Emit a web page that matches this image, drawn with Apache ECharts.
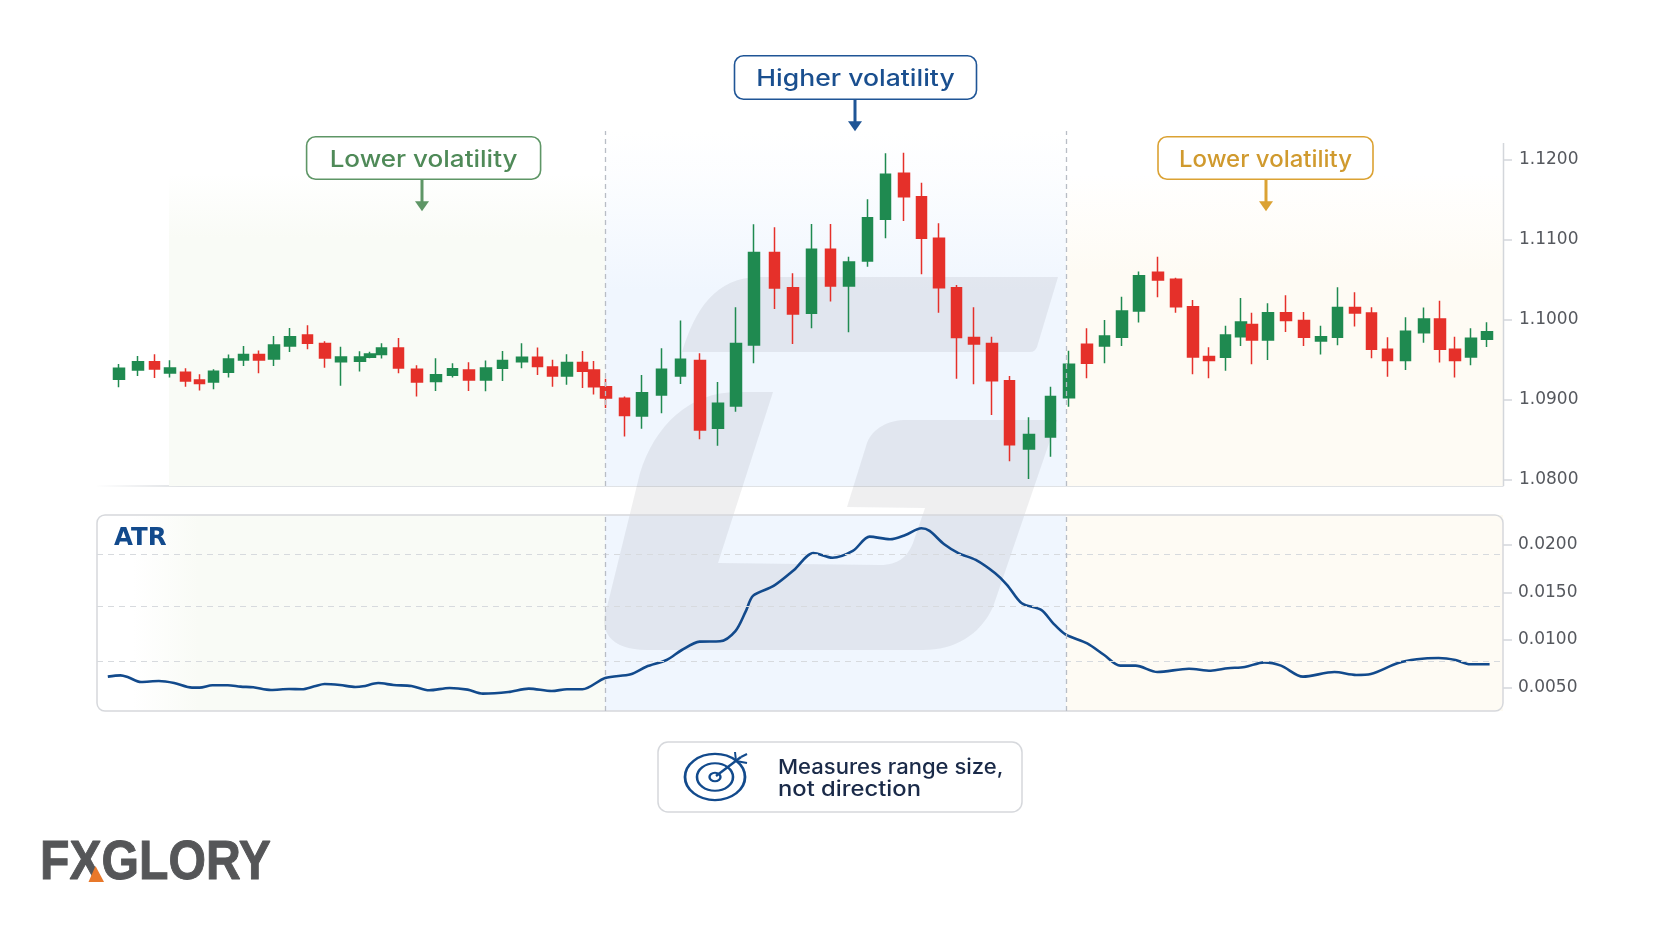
<!DOCTYPE html>
<html lang="en">
<head>
    <meta charset="UTF-8">
    <title>ATR volatility</title>
    <script src="https://cdn.jsdelivr.net/npm/echarts@6/dist/echarts.min.js"></script>
    <style>
        html, body { margin: 0; padding: 0; background: #fff; }
        #chart { width: 1664px; height: 928px; }
    </style>
</head>
<body>
<div id="chart"></div>
<script type="text/javascript">
    // minutes since session start, the bars are not evenly spaced in the picture
    var barMinutes = [10.9, 20.6, 28.7, 36.6, 44.2, 51.3, 58.2, 65.7, 73.3, 80.9, 88.5, 96.4, 105.2, 114.1, 121.9, 131.5, 136.5, 142.2, 150.8, 160, 169.4, 177.7, 186, 194.5, 202.8, 212.4, 220.2, 227.8, 235, 242.7, 248.6, 254.6, 263.7,
        272.5, 282.2, 291.7, 301.4, 310.4, 319.5, 328.5, 338.7, 347.9, 357.2, 366.7, 375.9, 385.2, 394.2, 403.4, 412.2, 421, 429.7, 438.5, 447.4, 456.2, 466, 476.7, 486,
        494.9, 503.7, 512.4, 521, 530.5, 539.5, 548, 556, 564.2, 572, 577.4, 585.5, 594.5, 603.5, 611.9, 620.3, 629, 637.2, 645.3, 654.2, 663.5, 671.5, 679, 687, 695];
    var openPrices = [1.09256, 1.09372, 1.09476, 1.09335, 1.09343, 1.09248, 1.09223, 1.09343, 1.09497, 1.09564, 1.0951, 1.09672, 1.09809, 1.09701, 1.09476, 1.0948, 1.0953, 1.09564, 1.09647, 1.09381, 1.09227, 1.09306, 1.09372, 1.09248, 1.09393, 1.09476, 1.0953, 1.0941, 1.09297, 1.09464, 1.09372, 1.09164, 1.09019,
        1.08798, 1.0906, 1.09297, 1.09489, 1.08645, 1.08923, 1.09684, 1.10836, 1.10399, 1.10079, 1.10877, 1.1042, 1.10732, 1.11252, 1.11825, 1.11534, 1.11015, 1.10399, 1.09776, 1.09701, 1.09239, 1.08387, 1.08536, 1.09027,
        1.09692, 1.09672, 1.0978, 1.10108, 1.10591, 1.10503, 1.10162, 1.09539, 1.0953, 1.09788, 1.09938, 1.09746, 1.10087, 1.09988, 1.09734, 1.0978, 1.1015, 1.10083, 1.0963, 1.09489, 1.09838, 1.10008, 1.0963, 1.09534, 1.09755];
    var closePrices = [1.09393, 1.09476, 1.09385, 1.09397, 1.09235, 1.09202, 1.09356, 1.0951, 1.09564, 1.09497, 1.09684, 1.09788, 1.09705, 1.09522, 1.09534, 1.09534, 1.09572, 1.09647, 1.09397, 1.09223, 1.09314, 1.09389, 1.09248, 1.09397, 1.09489, 1.0953, 1.09414, 1.09297, 1.09464, 1.09356, 1.09164, 1.09023, 1.08803,
        1.09089, 1.09381, 1.09505, 1.08624, 1.08956, 1.09701, 1.10836, 1.10395, 1.10071, 1.10877, 1.1042, 1.10719, 1.11272, 1.11813, 1.11534, 1.11015, 1.10399, 1.09776, 1.09697, 1.09239, 1.08441, 1.08566, 1.0904, 1.09443,
        1.09455, 1.09796, 1.10108, 1.10549, 1.10495, 1.10162, 1.09534, 1.09489, 1.09809, 1.09971, 1.09746, 1.10087, 1.09988, 1.0978, 1.09788, 1.1015, 1.10083, 1.0963, 1.09489, 1.09855, 1.10008, 1.0963, 1.09489, 1.09767, 1.0985];
    var lowPrices = [1.09156, 1.09297, 1.09273, 1.09277, 1.09164, 1.09115, 1.09131, 1.09277, 1.09422, 1.09331, 1.09422, 1.09597, 1.0963, 1.09401, 1.09177, 1.09352, 1.09518, 1.09514, 1.09331, 1.0904, 1.0911, 1.09277, 1.0911, 1.09106, 1.09235, 1.09393, 1.0931, 1.09164, 1.09189, 1.09148, 1.09065, 1.08898, 1.08541,
        1.0864, 1.08832, 1.09198, 1.08507, 1.08428, 1.08852, 1.09455, 1.10133, 1.09697, 1.09892, 1.10225, 1.09842, 1.10661, 1.11015, 1.11231, 1.10566, 1.10087, 1.09264, 1.09193, 1.08811, 1.08233, 1.08013, 1.08291, 1.08915,
        1.09268, 1.09455, 1.09672, 1.09963, 1.10279, 1.10087, 1.09318, 1.09268, 1.09364, 1.09672, 1.09443, 1.09497, 1.09846, 1.09672, 1.09564, 1.0968, 1.09913, 1.09518, 1.09289, 1.09372, 1.09713, 1.09464, 1.09277, 1.0943, 1.09659];
    var highPrices = [1.09447, 1.09547, 1.09568, 1.09493, 1.09393, 1.09318, 1.09381, 1.09564, 1.09672, 1.09614, 1.09796, 1.09896, 1.0993, 1.0973, 1.09663, 1.09605, 1.09601, 1.09705, 1.09772, 1.09431, 1.09518, 1.09455, 1.09468, 1.09489, 1.09609, 1.09705, 1.09651, 1.09501, 1.09568, 1.09609, 1.09485, 1.09264, 1.0904,
        1.0931, 1.09643, 1.09988, 1.0958, 1.09223, 1.10154, 1.11189, 1.11152, 1.10578, 1.11193, 1.11193, 1.10786, 1.11501, 1.12075, 1.12083, 1.11709, 1.11202, 1.10433, 1.10154, 1.09788, 1.09297, 1.08782, 1.09164, 1.09613,
        1.09892, 1.09996, 1.10287, 1.10599, 1.10786, 1.10524, 1.10245, 1.09655, 1.09925, 1.1027, 1.10087, 1.10204, 1.10304, 1.10096, 1.09925, 1.10403, 1.10341, 1.10154, 1.0978, 1.10029, 1.1015, 1.10237, 1.09788, 1.09892, 1.09967];

    var atrMinutes = [5.4, 11.8, 15.6, 22, 30.9, 38.6, 47.5, 51.3, 57.7, 65.4, 71.8, 78.1, 87, 96, 102.4, 108.7, 113.8, 121.5, 129.2, 133, 140.6, 148.3, 157.2, 166.1, 176.3, 185.3, 192.9, 205.7, 215.9, 227.4, 235, 242.7, 254.1, 266.9, 274.6, 284.8, 292.4, 301.3, 311.5, 319.2, 324.3, 328.1, 338.3, 348.5, 358.2, 367.7, 377.9, 386.3, 396.5,
        404.2, 412.2, 416.3, 423.6, 430.9, 439.4, 449.1, 455.1, 462.4, 472.1, 478.1, 484.2, 495.1, 503.6, 511.6, 519.3, 530.2, 546, 556.9, 565.4, 573.9, 583.6, 592, 603, 618.7, 629.6, 636.9, 650.2, 659.9, 670.8, 679.3, 686.6, 696.3];
    var atrValues = [0.00612, 0.00626, 0.00605, 0.00556, 0.00566, 0.00545, 0.00496, 0.00496, 0.00521, 0.00521, 0.00507, 0.005, 0.00472, 0.00482, 0.00479, 0.0051, 0.00535, 0.00524, 0.00503, 0.0051, 0.00545, 0.00524, 0.00514, 0.00468, 0.00493, 0.00475, 0.00433, 0.0045, 0.00486, 0.00461, 0.00479, 0.00479, 0.00598, 0.00637, 0.00717, 0.00788, 0.00893, 0.00981, 0.00985, 0.01093, 0.01297, 0.01466, 0.01568, 0.01736, 0.01916, 0.01866, 0.01937, 0.02088, 0.0206,
        0.02105, 0.02176, 0.02148, 0.02007, 0.01912, 0.01842, 0.01701, 0.01578, 0.01385, 0.01315, 0.01174, 0.01058, 0.00963, 0.0084, 0.00728, 0.00728, 0.00661, 0.00696, 0.00675, 0.007, 0.00714, 0.00763, 0.00728, 0.00612, 0.00661, 0.0063, 0.0064, 0.00753, 0.00795, 0.00809, 0.00788, 0.00742, 0.00742];

    var priceTicks = [1.08, 1.09, 1.10, 1.11, 1.12];
    var atrTicks = [0.005, 0.01, 0.015, 0.02];
    var atrGuides = [0.01905, 0.01357, 0.00777];
    var zoneEdges = [36, 254, 484.5, 703];

    var GREEN = '#1f8a50', RED = '#e5302a', NAVY = '#124a8c';
    var FONT = 'Inter, "Noto Sans", sans-serif';
    var TICK_FONT = '"DejaVu Sans", sans-serif';

    var chartDom = document.getElementById('chart');
    var myChart = echarts.init(chartDom);

    function fade(r, g, b, x2, y2, stops) {
        return new echarts.graphic.LinearGradient(0, 0, x2, y2, stops.map(function (s) {
            return { offset: s[0], color: 'rgba(' + r + ',' + g + ',' + b + ',' + s[1] + ')' };
        }));
    }

    // rounded label with an arrow under it, the lettering in the picture is wider than Inter
    function callout(x, y, w, h, text, stroke, textColor, arrowX, stretch) {
        return [
            { type: 'rect', z: 20, shape: { x: x, y: y, width: w, height: h, r: 9 }, style: { fill: '#fff', stroke: stroke, lineWidth: 1.6 } },
            { type: 'text', z: 21, x: x + w / 2, y: y + h / 2 + 2, scaleX: stretch, style: { text: text, x: 0, y: 0, fill: textColor, font: '500 22.5px ' + FONT, textAlign: 'center', textVerticalAlign: 'middle' } },
            { type: 'line', z: 20, shape: { x1: arrowX, y1: y + h, x2: arrowX, y2: y + h + 24 }, style: { stroke: stroke, lineWidth: 3 } },
            { type: 'polygon', z: 20, shape: { points: [[arrowX - 7, y + h + 22], [arrowX + 7, y + h + 22], [arrowX, y + h + 32]] }, style: { fill: stroke } }
        ];
    }

    // flattened rings of the target icon
    function ring(r, w) {
        return { type: 'circle', z: 21, x: 715, y: 777, scaleY: 0.77, shape: { cx: 0, cy: 0, r: r }, style: { fill: 'transparent', stroke: NAVY, lineWidth: w } };
    }

    function noteLine(text, y, stretch) {
        return { type: 'text', z: 21, x: 778, y: y, scaleX: stretch, style: { text: text, x: 0, y: 0, fill: '#1a2a48', font: '500 20.5px ' + FONT, textVerticalAlign: 'middle' } };
    }

    // the big pale logo mark behind the chart
    echarts.graphic.registerShape('watermark', echarts.graphic.extendPath(
        'M1058 277 L1037 347 Q1035 352 1030 352 L682 352 C695 310 715 277 760 277 Z ' +
        'M773 392 L718 563 L880 565 C900 565 908 555 913 543 L925 508 L847 507 L867 443 C873 428 888 420 907 420 L1057 420 L993 607 C980 635 955 650 923 650 L647 650 C610 650 598 630 607 607 L640 473 C655 425 690 392 737 392 Z', {}));

    var graphics = [
        { type: 'watermark', z: 1.5, silent: true, style: { fill: 'rgba(70,70,80,0.085)' } },
        // price axis line stops short of the dashed zone lines
        { type: 'line', z: 3, shape: { x1: 1503.5, y1: 143, x2: 1503.5, y2: 486 }, style: { stroke: '#d3d6db', lineWidth: 1.5 } },
        { type: 'rect', z: 3, shape: { x: 97, y: 515, width: 1406, height: 196, r: 8 }, style: { fill: 'transparent', stroke: '#d6d8dc', lineWidth: 1.5 } },
        { type: 'text', z: 20, style: { text: 'ATR', x: 114, y: 539, fill: NAVY, font: '700 24.5px "DejaVu Sans", sans-serif', textVerticalAlign: 'middle' } },
        // note card with target icon
        { type: 'rect', z: 20, shape: { x: 658, y: 742, width: 364, height: 70, r: 10 }, style: { fill: '#fff', stroke: '#d6d8dc', lineWidth: 1.5 } },
        ring(30, 2.8), ring(18, 2.6), ring(5.5, 2.4),
        { type: 'line', z: 21, shape: { x1: 716, y1: 776, x2: 741, y2: 757 }, style: { stroke: NAVY, lineWidth: 2.4 } },
        { type: 'line', z: 21, shape: { x1: 736, y1: 761, x2: 735, y2: 752 }, style: { stroke: NAVY, lineWidth: 2 } },
        { type: 'line', z: 21, shape: { x1: 736, y1: 761, x2: 747, y2: 763 }, style: { stroke: NAVY, lineWidth: 2 } },
        { type: 'line', z: 21, shape: { x1: 741, y1: 757, x2: 747, y2: 754 }, style: { stroke: NAVY, lineWidth: 2 } },
        noteLine('Measures range size,', 768, 1.075),
        noteLine('not direction', 790, 1.16),
        // logo
        { type: 'text', z: 21, x: 40, y: 864, scaleX: 0.86, style: { text: 'FXGLORY', x: 0, y: 0, fill: '#555658', stroke: '#555658', lineWidth: 1, font: '700 56px "Liberation Sans", sans-serif', textVerticalAlign: 'middle' } },
        { type: 'polygon', z: 22, shape: { points: [[88.5, 882], [95.5, 866], [104, 882]] }, style: { fill: '#e8782a' } }
    ].concat(
        callout(734.5, 55.7, 242, 43.6, 'Higher volatility', '#1f5596', '#1a4f8f', 855, 1.18),
        callout(306.6, 136.7, 234, 42.6, 'Lower volatility', '#5e9666', '#4f8a58', 422, 1.157),
        callout(1158, 136.7, 215, 42.6, 'Lower volatility', '#dba233', '#d09a2e', 1266, 1.065)
    );

    var option = {
        animation: false,
        backgroundColor: '#fff',
        grid: [
            { left: 97, width: 1406, top: 131, height: 355 },
            { left: 97, width: 1406, top: 515, height: 196 }
        ],
        xAxis: [
            {
                type: 'value', gridIndex: 0, min: 0, max: 703,
                splitLine: { show: false }, axisTick: { show: false }, axisLabel: { show: false },
                axisLine: {
                    onZero: false,
                    lineStyle: { width: 1.5, color: new echarts.graphic.LinearGradient(0, 0, 1, 0, [
                        { offset: 0, color: 'rgba(214,217,221,0)' },
                        { offset: 0.06, color: 'rgba(214,217,221,1)' },
                        { offset: 1, color: 'rgba(214,217,221,1)' }
                    ]) }
                }
            },
            {
                type: 'value', gridIndex: 1, min: 0, max: 703,
                splitLine: { show: false }, axisTick: { show: false }, axisLabel: { show: false }, axisLine: { show: false }
            }
        ],
        yAxis: [
            {
                type: 'value', gridIndex: 0, position: 'right', min: 1.07925, max: 1.12353, scale: true,
                splitLine: { show: false }, axisLine: { show: false, onZero: false },
                axisTick: { show: true, length: 9, customValues: priceTicks, lineStyle: { color: '#d3d6db', width: 1.5 } },
                axisLabel: {
                    customValues: priceTicks, margin: 16, fontSize: 17, color: '#55585e', fontFamily: TICK_FONT,
                    formatter: function (v) { return v.toFixed(4); }
                }
            },
            {
                type: 'value', gridIndex: 1, position: 'right', min: 0.0025, max: 0.02316,
                splitLine: { show: false }, axisLine: { show: false, onZero: false },
                axisTick: { show: true, length: 9, customValues: atrTicks, lineStyle: { color: '#d3d6db', width: 1.5 } },
                axisLabel: {
                    customValues: atrTicks, margin: 15, fontSize: 17, color: '#55585e', fontFamily: TICK_FONT,
                    formatter: function (v) { return v.toFixed(4); }
                }
            }
        ],
        graphic: { elements: graphics },
        series: [
            {
                type: 'candlestick',
                xAxisIndex: 0,
                yAxisIndex: 0,
                barWidth: 11,
                data: barMinutes.map(function (m, i) {
                    return [m, openPrices[i], closePrices[i], lowPrices[i], highPrices[i]];
                }),
                itemStyle: { color: GREEN, color0: RED, borderColor: GREEN, borderColor0: RED, borderWidth: 1.5 },
                markArea: {
                    silent: true,
                    data: [
                        [{ xAxis: zoneEdges[0], itemStyle: { color: fade(249, 251, 246, 0, 1, [[0, 0], [0.12, 0], [0.3, 1], [1, 1]]) } }, { xAxis: zoneEdges[1] }],
                        [{ xAxis: zoneEdges[1], itemStyle: { color: fade(240, 246, 254, 0, 1, [[0, 0], [0.12, 0.2], [0.45, 1], [1, 1]]) } }, { xAxis: zoneEdges[2] }],
                        [{ xAxis: zoneEdges[2], itemStyle: { color: fade(254, 251, 244, 0, 1, [[0, 0], [0.12, 0], [0.4, 1], [1, 1]]) } }, { xAxis: zoneEdges[3] }]
                    ]
                },
                markLine: {
                    silent: true, symbol: 'none', label: { show: false }, precision: 5,
                    lineStyle: { color: '#b8bdc5', type: [5, 4], width: 1.3 },
                    data: [{ xAxis: zoneEdges[1] }, { xAxis: zoneEdges[2] }]
                }
            },
            {
                type: 'line',
                xAxisIndex: 1,
                yAxisIndex: 1,
                smooth: 0.3,
                showSymbol: false,
                data: atrMinutes.map(function (m, i) { return [m, atrValues[i]]; }),
                lineStyle: { color: NAVY, width: 2.6 },
                markArea: {
                    silent: true,
                    data: [
                        [{ xAxis: 0, itemStyle: { color: fade(249, 251, 246, 1, 0, [[0, 0], [0.07, 0], [0.2, 1], [1, 1]]) } }, { xAxis: zoneEdges[1] }],
                        [{ xAxis: zoneEdges[1], itemStyle: { color: 'rgb(240,246,254)' } }, { xAxis: zoneEdges[2] }],
                        [{ xAxis: zoneEdges[2], itemStyle: { color: 'rgb(254,251,244)' } }, { xAxis: zoneEdges[3] }]
                    ]
                },
                markLine: {
                    silent: true, symbol: 'none', label: { show: false }, precision: 5,
                    data: atrGuides.map(function (g) {
                        return { yAxis: g, lineStyle: { color: '#d7dade', type: [6, 5], width: 1.2 } };
                    }).concat([
                        { xAxis: zoneEdges[1], lineStyle: { color: '#b8bdc5', type: [5, 4], width: 1.3 } },
                        { xAxis: zoneEdges[2], lineStyle: { color: '#b8bdc5', type: [5, 4], width: 1.3 } }
                    ])
                }
            }
        ]
    };

    myChart.setOption(option);
</script>
</body>
</html>
